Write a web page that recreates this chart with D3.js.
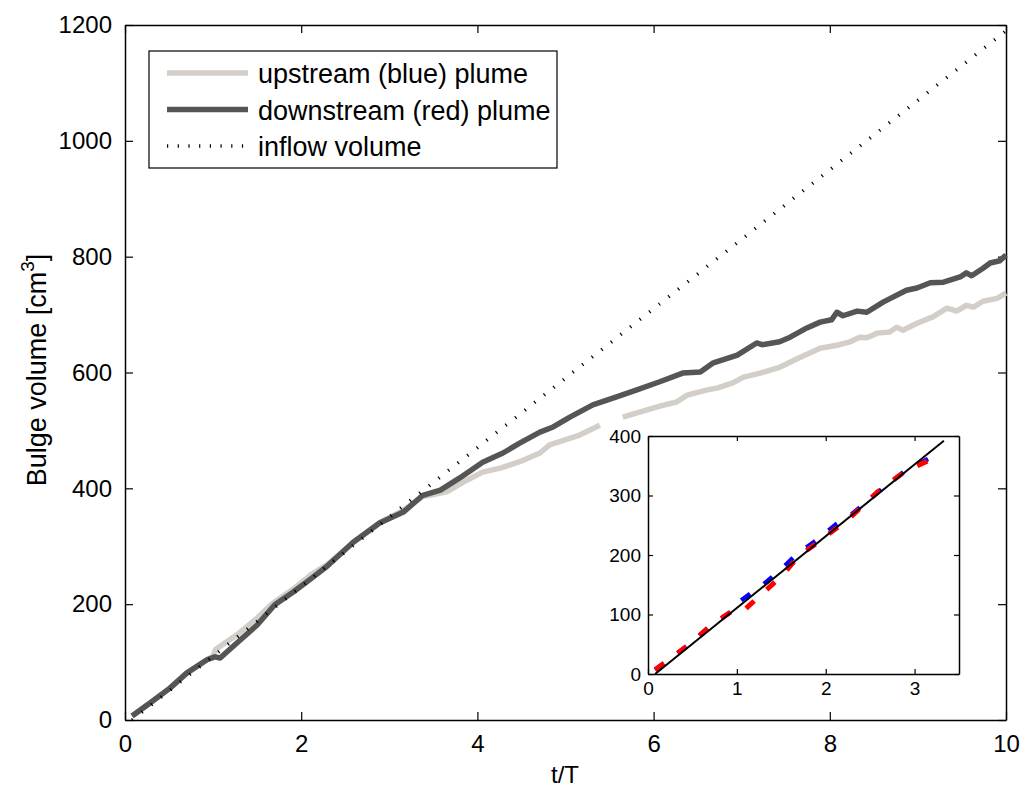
<!DOCTYPE html>
<html>
<head>
<meta charset="utf-8">
<script src="https://cdn.jsdelivr.net/npm/d3@7"></script>
<style>
  body { margin: 0; background: #fff; }
  svg { font-family: "Liberation Sans", Arial, Helvetica, sans-serif; }
</style>
</head>
<body>
<div class="box"></div>
<script>
// DATA
const upT = [0.08, 0.28, 0.51, 0.70, 0.93, 1.0, 1.03, 1.27, 1.50, 1.68, 1.91, 2.12, 2.29, 2.59, 2.89, 3.16, 3.38, 3.46, 3.65, 3.72, 3.88, 4.06, 4.26, 4.48, 4.71, 4.82, 5.16, 5.39, 5.5, 5.65, 5.85, 6.07, 6.26, 6.38, 6.61, 6.72, 6.90, 7.02, 7.21, 7.43, 7.66, 7.89, 8.08, 8.23, 8.34, 8.42, 8.54, 8.68, 8.76, 8.83, 8.99, 9.17, 9.33, 9.44, 9.55, 9.63, 9.74, 9.90, 10.0];
const upV = [7, 29, 55, 81, 104, 110, 122, 147, 176, 202, 226, 252, 268, 306, 341, 362, 386, 388, 394, 400, 414, 428, 435, 446, 461, 475, 492, 509, null, 523, 532, 542, 549, 561, 570, 573, 582, 592, 599, 609, 626, 642, 647, 653, 661, 660, 668, 670, 678, 673, 685, 696, 711, 706, 716, 713, 723, 728, 737];

const downT = [0.08, 0.28, 0.51, 0.70, 0.93, 1.02, 1.08, 1.27, 1.50, 1.70, 1.91, 2.12, 2.29, 2.59, 2.89, 3.16, 3.38, 3.58, 3.80, 4.06, 4.29, 4.48, 4.71, 4.86, 5.05, 5.31, 5.58, 5.81, 6.07, 6.33, 6.53, 6.67, 6.95, 7.17, 7.23, 7.43, 7.55, 7.74, 7.89, 8.02, 8.08, 8.15, 8.31, 8.42, 8.61, 8.87, 8.99, 9.14, 9.29, 9.48, 9.55, 9.61, 9.74, 9.82, 9.93, 10.0];
const downV = [7, 29, 55, 81, 104, 109, 107, 133, 164, 199, 221, 245, 265, 307, 340, 359, 388, 397, 418, 445, 461, 478, 497, 506, 523, 544, 558, 570, 584, 599, 601, 616, 630, 651, 648, 653, 661, 677, 687, 691, 704, 698, 706, 704, 722, 742, 746, 755, 756, 765, 772, 767, 780, 789, 793, 803];

const inflowT = [0.08, 10];
const inflowV = [0, 1190];

const insetInflowT = [0.08, 3.33];
const insetInflowV = [0, 392];

const xTicks = [0, 2, 4, 6, 8, 10];
const yTicks = [0, 200, 400, 600, 800, 1000, 1200];
const insetXTicks = [0, 1, 2, 3];
const insetYTicks = [0, 100, 200, 300, 400];

const legendLabels = ["upstream (blue) plume", "downstream (red) plume", "inflow volume"];

const zip = (ts, vs) => ts.map((t, i) => ({t: t, v: vs[i]}));
const upData = zip(upT, upV);
const downData = zip(downT, downV);
const inflowData = zip(inflowT, inflowV);
const insetInflowData = zip(insetInflowT, insetInflowV);

const LIGHT = "#d3cfc8";
const DARK = "#555555";

const w = 1024, h = 788;
const svg = d3.select(".box").append("svg")
    .attr("width", w)
    .attr("height", h);

// MAIN AXES
const x = d3.scaleLinear().domain([0, 10]).range([125, 1006]);
const y = d3.scaleLinear().domain([0, 1200]).range([720, 25]);
const fmt = d3.format("d");

function styleAxis(g, size) {
    g.attr("font-family", null).attr("font-size", null);
    g.selectAll("path").attr("stroke", "#000").attr("stroke-width", 1.5);
    g.selectAll("line").attr("stroke", "#000").attr("stroke-width", 1.2);
    g.selectAll("text").attr("fill", "#000").style("font-size", size + "px");
}

svg.append("g").attr("transform", "translate(0,720)")
    .call(d3.axisBottom(x).tickValues(xTicks).tickFormat(fmt).tickSizeInner(-8).tickSizeOuter(0).tickPadding(15))
    .call(g => styleAxis(g, 24));
svg.append("g").attr("transform", "translate(0,25)")
    .call(d3.axisTop(x).tickValues(xTicks).tickSizeInner(-8).tickSizeOuter(0).tickFormat(""))
    .call(g => styleAxis(g, 24));
svg.append("g").attr("transform", "translate(125,0)")
    .call(d3.axisLeft(y).tickValues(yTicks).tickFormat(fmt).tickSizeInner(-8).tickSizeOuter(0).tickPadding(13))
    .call(g => styleAxis(g, 24));
svg.append("g").attr("transform", "translate(1006,0)")
    .call(d3.axisRight(y).tickValues(yTicks).tickSizeInner(-8).tickSizeOuter(0).tickFormat(""))
    .call(g => styleAxis(g, 24));

// axis labels
svg.append("text")
    .attr("x", 565).attr("y", 783)
    .attr("text-anchor", "middle")
    .style("font-size", "24px")
    .text("t/T");

const yl = svg.append("text")
    .attr("transform", "translate(46,370) rotate(-90)")
    .attr("text-anchor", "middle")
    .style("font-size", "27px");
yl.append("tspan").text("Bulge volume [cm");
yl.append("tspan").attr("dy", -12).style("font-size", "19px").text("3");
yl.append("tspan").attr("dy", 12).text("]");

// LINES
const line = d3.line()
    .defined(d => d.v != null)
    .x(d => x(d.t))
    .y(d => y(d.v));

svg.append("path").datum(upData)
    .attr("d", line).attr("fill", "none")
    .attr("stroke", LIGHT).attr("stroke-width", 5.5)
    .attr("stroke-linejoin", "round");
svg.append("path").datum(downData)
    .attr("d", line).attr("fill", "none")
    .attr("stroke", DARK).attr("stroke-width", 5.5)
    .attr("stroke-linejoin", "round");
svg.append("path").datum(inflowData)
    .attr("d", line).attr("fill", "none")
    .attr("stroke", "#000").attr("stroke-width", 3.5)
    .attr("stroke-dasharray", "1.2,11");

// LEGEND
const legend = svg.append("g").attr("id", "legend");
legend.append("rect")
    .attr("x", 149).attr("y", 51).attr("width", 408).attr("height", 117)
    .attr("fill", "#fff").attr("stroke", "#000").attr("stroke-width", 1.2);
const legStyles = [
    {stroke: LIGHT, width: 5.5, dash: null},
    {stroke: DARK, width: 5.5, dash: null},
    {stroke: "#000", width: 3.5, dash: "1.2,9.5"}
];
legendLabels.forEach((lab, i) => {
    const yy = 73 + i * 36.5;
    legend.append("line")
        .attr("x1", 167).attr("x2", 248).attr("y1", yy).attr("y2", yy)
        .attr("stroke", legStyles[i].stroke)
        .attr("stroke-width", legStyles[i].width)
        .attr("stroke-dasharray", legStyles[i].dash);
    legend.append("text")
        .attr("x", 258).attr("y", yy + 10)
        .style("font-size", "27px")
        .text(lab);
});

// INSET
const xi = d3.scaleLinear().domain([0, 3.5]).range([648, 959]);
const yi = d3.scaleLinear().domain([0, 400]).range([674, 436]);

const inset = svg.append("g").attr("id", "inset");
inset.append("rect")
    .attr("x", 648).attr("y", 436).attr("width", 311).attr("height", 238)
    .attr("fill", "#fff");

inset.append("g").attr("transform", "translate(0,674)")
    .call(d3.axisBottom(xi).tickValues(insetXTicks).tickFormat(fmt).tickSizeInner(-5).tickSizeOuter(0).tickPadding(8))
    .call(g => styleAxis(g, 19));
inset.append("g").attr("transform", "translate(0,436)")
    .call(d3.axisTop(xi).tickValues(insetXTicks).tickSizeInner(-5).tickSizeOuter(0).tickFormat(""))
    .call(g => styleAxis(g, 19));
inset.append("g").attr("transform", "translate(648,0)")
    .call(d3.axisLeft(yi).tickValues(insetYTicks).tickFormat(fmt).tickSizeInner(-5).tickSizeOuter(0).tickPadding(7))
    .call(g => styleAxis(g, 19));
inset.append("g").attr("transform", "translate(959,0)")
    .call(d3.axisRight(yi).tickValues(insetYTicks).tickSizeInner(-5).tickSizeOuter(0).tickFormat(""))
    .call(g => styleAxis(g, 19));

const lineI = d3.line()
    .defined(d => d.v != null)
    .x(d => xi(d.t))
    .y(d => yi(d.v));

inset.append("path").datum(upData.filter(d => d.t <= 3.35))
    .attr("d", lineI).attr("fill", "none")
    .attr("stroke", "#0000ff").attr("stroke-width", 4.5)
    .attr("stroke-dasharray", "11,17");
inset.append("path").datum(downData.filter(d => d.t <= 3.35))
    .attr("d", lineI).attr("fill", "none")
    .attr("stroke", "#ff0000").attr("stroke-width", 5)
    .attr("stroke-dasharray", "11,17");
inset.append("path").datum(insetInflowData)
    .attr("d", lineI).attr("fill", "none")
    .attr("stroke", "#000").attr("stroke-width", 2);
</script>
</body>
</html>
